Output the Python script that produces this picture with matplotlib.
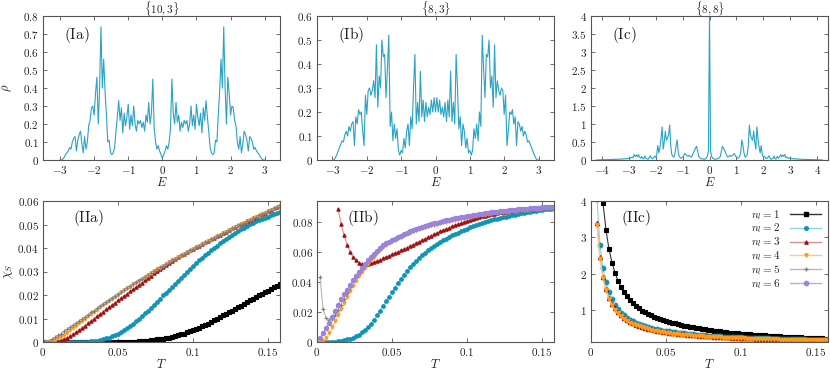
import numpy as np
import matplotlib
matplotlib.use('Agg')
import matplotlib.pyplot as plt
from matplotlib.ticker import FuncFormatter, MultipleLocator

plt.rcParams['mathtext.fontset'] = 'cm'
plt.rcParams['font.family'] = 'serif'
plt.rcParams['font.serif'] = ['DejaVu Serif']

# ---------------- density of states (top row) ----------------
titles = [r'$\{10,3\}$', r'$\{8,3\}$', r'$\{8,8\}$']
top_tags = ['(Ia)', '(Ib)', '(Ic)']

E_ab = np.linspace(-3.0, 3.0, 151)
E_c = np.linspace(-4.2, 4.2, 211)

rho_a = [0.000, 0.000, 0.005, 0.015, 0.030, 0.040, 0.050, 0.070, 0.060, 0.100,
         0.120, 0.130, 0.050, 0.110, 0.140, 0.160, 0.090, 0.040, 0.130, 0.060,
         0.100, 0.190, 0.220, 0.290, 0.300, 0.250, 0.370, 0.460, 0.200, 0.400,
         0.740, 0.400, 0.560, 0.380, 0.250, 0.100, 0.110, 0.040, 0.030, 0.040,
         0.070, 0.160, 0.240, 0.330, 0.220, 0.290, 0.150, 0.260, 0.190, 0.240,
         0.310, 0.170, 0.250, 0.190, 0.300, 0.200, 0.160, 0.220, 0.200, 0.220,
         0.180, 0.210, 0.160, 0.250, 0.210, 0.320, 0.200, 0.260, 0.450, 0.180,
         0.100, 0.060, 0.080, 0.050, 0.030,
         0.010,
         0.030, 0.050, 0.080, 0.060, 0.100,
         0.180, 0.450, 0.260, 0.200, 0.320, 0.210, 0.250, 0.160, 0.210, 0.180,
         0.220, 0.200, 0.220, 0.160, 0.200, 0.300, 0.190, 0.250, 0.170, 0.310,
         0.240, 0.190, 0.260, 0.150, 0.290, 0.220, 0.330, 0.240, 0.160, 0.070,
         0.040, 0.030, 0.040, 0.110, 0.100, 0.250, 0.380, 0.560, 0.400, 0.740,
         0.400, 0.200, 0.460, 0.370, 0.250, 0.300, 0.290, 0.220, 0.190, 0.100,
         0.060, 0.130, 0.040, 0.090, 0.160, 0.140, 0.110, 0.050, 0.130, 0.120,
         0.100, 0.060, 0.070, 0.050, 0.040, 0.030, 0.015, 0.005, 0.000, 0.000]

rho_b = [0.000, 0.000, 0.008, 0.020, 0.035, 0.050, 0.065, 0.080, 0.075, 0.105,
         0.120, 0.100, 0.140, 0.120, 0.150, 0.160, 0.060, 0.180, 0.150, 0.210,
         0.190, 0.200, 0.120, 0.060, 0.270, 0.190, 0.290, 0.300, 0.270, 0.290,
         0.330, 0.260, 0.480, 0.220, 0.350, 0.300, 0.500, 0.430, 0.440, 0.260,
         0.380, 0.520, 0.140, 0.200, 0.080, 0.150, 0.090, 0.130, 0.040, 0.020,
         0.040, 0.030, 0.090, 0.050, 0.120, 0.150, 0.060, 0.180, 0.130, 0.300,
         0.440, 0.150, 0.240, 0.160, 0.370, 0.180, 0.250, 0.160, 0.240, 0.180,
         0.220, 0.190, 0.250, 0.200, 0.260,
         0.200,
         0.260, 0.200, 0.250, 0.190, 0.220,
         0.180, 0.240, 0.160, 0.250, 0.180, 0.370, 0.160, 0.240, 0.150, 0.440,
         0.300, 0.130, 0.180, 0.060, 0.150, 0.120, 0.050, 0.090, 0.030, 0.040,
         0.020, 0.040, 0.130, 0.090, 0.150, 0.080, 0.200, 0.140, 0.520, 0.380,
         0.260, 0.440, 0.430, 0.500, 0.300, 0.350, 0.220, 0.480, 0.260, 0.330,
         0.290, 0.270, 0.300, 0.290, 0.190, 0.270, 0.060, 0.120, 0.200, 0.190,
         0.210, 0.150, 0.180, 0.060, 0.160, 0.150, 0.120, 0.140, 0.100, 0.120,
         0.105, 0.075, 0.080, 0.065, 0.050, 0.035, 0.020, 0.008, 0.000, 0.000]

rho_c = [0.000, 0.002, 0.004, 0.005, 0.006, 0.008, 0.006, 0.008, 0.010, 0.008,
         0.012, 0.010, 0.014, 0.012, 0.015, 0.018, 0.014, 0.020, 0.016, 0.022,
         0.018, 0.025, 0.020, 0.030, 0.022, 0.035, 0.030, 0.040, 0.030, 0.050,
         0.040, 0.060, 0.050, 0.080, 0.060, 0.150, 0.100, 0.140, 0.090, 0.150,
         0.080, 0.050, 0.100, 0.040, 0.030, 0.110, 0.050, 0.030, 0.020, 0.060,
         0.120, 0.060, 0.040, 0.050, 0.100, 0.080, 0.150, 0.400, 0.200, 0.350,
         0.600, 0.920, 0.300, 0.500, 0.800, 0.550, 0.600, 0.700, 0.970, 0.400,
         0.150, 0.100, 0.080, 0.200, 0.400, 0.560, 0.200, 0.100, 0.060, 0.050,
         0.080, 0.120, 0.180, 0.150, 0.120, 0.100, 0.130, 0.100, 0.080, 0.120,
         0.200, 0.260, 0.330, 0.380, 0.250, 0.100, 0.060, 0.040, 0.030, 0.030,
         0.020, 0.030, 0.050, 0.100, 0.250,
         4.000,
         0.250, 0.100, 0.050, 0.030, 0.020,
         0.030, 0.030, 0.040, 0.060, 0.100, 0.250, 0.380, 0.330, 0.260, 0.200,
         0.120, 0.080, 0.100, 0.130, 0.100, 0.120, 0.150, 0.180, 0.120, 0.080,
         0.050, 0.060, 0.100, 0.200, 0.560, 0.400, 0.200, 0.080, 0.100, 0.150,
         0.400, 0.970, 0.700, 0.600, 0.550, 0.800, 0.500, 0.300, 0.920, 0.600,
         0.350, 0.200, 0.400, 0.150, 0.080, 0.100, 0.050, 0.040, 0.060, 0.120,
         0.060, 0.020, 0.030, 0.050, 0.110, 0.030, 0.040, 0.100, 0.050, 0.080,
         0.150, 0.090, 0.140, 0.100, 0.150, 0.060, 0.080, 0.050, 0.060, 0.040,
         0.050, 0.030, 0.040, 0.030, 0.035, 0.022, 0.030, 0.020, 0.025, 0.018,
         0.022, 0.016, 0.020, 0.014, 0.018, 0.015, 0.012, 0.014, 0.010, 0.012,
         0.008, 0.010, 0.008, 0.006, 0.008, 0.006, 0.005, 0.004, 0.002, 0.000]

# ---------------- susceptibility (bottom row) ----------------
bottom_tags = ['(IIa)', '(IIb)', '(IIc)']
T = np.linspace(0.002, 0.158, 79)

# panel IIa
chi_a1 = [0] * 27 + [
    .0001, .0001, .0002, .0002, .0003, .0004, .0005, .0006, .0008, .0009,
    .0011, .0012, .0014, .0017, .0019, .0022, .0025, .0028, .0032, .0036,
    .0041, .0045, .0050, .0055, .0061, .0066, .0072, .0078, .0085, .0092,
    .0099, .0106, .0113, .0120, .0127, .0134, .0141, .0148, .0155, .0162,
    .0170, .0177, .0184, .0191, .0198, .0205, .0212, .0219, .0226, .0233,
    .0240, .0247]
chi_a2 = [0] * 12 + [
    .0001, .0001, .0002, .0003, .0004, .0006, .0008, .0011, .0015, .0019,
    .0024, .0030, .0036, .0043, .0051, .0059, .0068, .0078, .0088, .0099,
    .0110, .0122, .0134, .0146, .0159, .0172, .0185, .0198, .0210, .0223,
    .0235, .0248, .0260, .0273, .0286, .0299, .0312, .0325, .0336, .0347,
    .0358, .0369, .0380, .0390, .0400, .0410, .0420, .0430, .0439, .0448,
    .0456, .0465, .0473, .0480, .0487, .0494, .0501, .0508, .0513, .0519,
    .0524, .0529, .0534, .0539, .0544, .0549, .0554]
chi_a3 = [.0000, .0000, .0001, .0002, .0004, .0008, .0013, .0019, .0026, .0033,
          .0041, .0050, .0060, .0070, .0080, .0090, .0100, .0110, .0120, .0129,
          .0139, .0149, .0158, .0168, .0177, .0186, .0196, .0205, .0215, .0225,
          .0234, .0244, .0253, .0263, .0273, .0282, .0292, .0301, .0311, .0320,
          .0329, .0337, .0346, .0354, .0362, .0369, .0376, .0383, .0390, .0397,
          .0404, .0410, .0417, .0424, .0431, .0437, .0444, .0451, .0457, .0464,
          .0470, .0477, .0483, .0489, .0496, .0502, .0508, .0514, .0520, .0527,
          .0533, .0539, .0545, .0551, .0557, .0563, .0569, .0575, .0581]
chi_a4 = [.0000, .0002, .0005, .0010, .0016, .0023, .0031, .0040, .0049, .0059,
          .0069, .0079, .0089, .0099, .0109, .0119, .0128, .0138, .0147, .0156,
          .0165, .0174, .0183, .0192, .0201, .0211, .0220, .0228, .0236, .0245,
          .0253, .0261, .0269, .0277, .0285, .0293, .0301, .0309, .0317, .0324,
          .0332, .0339, .0347, .0354, .0361, .0368, .0375, .0382, .0389, .0396,
          .0403, .0409, .0416, .0423, .0430, .0436, .0443, .0450, .0456, .0463,
          .0469, .0476, .0482, .0488, .0495, .0501, .0507, .0513, .0519, .0526,
          .0532, .0538, .0544, .0550, .0556, .0562, .0568, .0574, .0580]
chi_a5 = [.0002, .0006, .0012, .0020, .0028, .0036, .0045, .0054, .0063, .0072,
          .0081, .0090, .0099, .0108, .0117, .0126, .0134, .0143, .0152, .0161,
          .0169, .0178, .0187, .0195, .0204, .0212, .0221, .0229, .0237, .0246,
          .0254, .0262, .0270, .0278, .0286, .0294, .0302, .0310, .0318, .0325,
          .0333, .0340, .0348, .0355, .0362, .0369, .0376, .0383, .0390, .0397,
          .0404, .0410, .0417, .0424, .0431, .0437, .0444, .0451, .0457, .0464,
          .0470, .0477, .0483, .0489, .0496, .0502, .0508, .0514, .0520, .0527,
          .0533, .0539, .0545, .0551, .0557, .0563, .0569, .0575, .0581]

# panel IIb
chi_b2 = [.0000, .0000, .0000, .0001, .0002, .0003, .0005, .0008, .0012, .0017,
          .0022, .0028, .0037, .0050, .0066, .0082, .0100, .0121, .0147, .0178,
          .0209, .0240, .0271, .0302, .0333, .0363, .0393, .0421, .0450, .0476,
          .0499, .0521, .0541, .0560, .0578, .0595, .0611, .0627, .0642, .0656,
          .0668, .0679, .0690, .0701, .0711, .0720, .0729, .0738, .0747, .0756,
          .0764, .0771, .0779, .0786, .0793, .0799, .0805, .0811, .0817, .0822,
          .0827, .0831, .0836, .0840, .0844, .0849, .0853, .0858, .0862, .0866,
          .0869, .0872, .0876, .0879, .0882, .0885, .0888, .0890, .0893]
chi_b3 = [.0890, .0790, .0712, .0650, .0602, .0568, .0545, .0530, .0522, .0519,
          .0520, .0525, .0532, .0540, .0549, .0558, .0567, .0576, .0585, .0594,
          .0603, .0612, .0621, .0630, .0640, .0650, .0660, .0670, .0680, .0690,
          .0700, .0710, .0719, .0728, .0737, .0746, .0755, .0763, .0771, .0779,
          .0787, .0794, .0801, .0808, .0815, .0821, .0827, .0832, .0837, .0842,
          .0847, .0852, .0856, .0860, .0864, .0867, .0870, .0873, .0876, .0879,
          .0881, .0884, .0886, .0888, .0890, .0891, .0893, .0894, .0896, .0897,
          .0899, .0900, .0902]
chi_b4 = [.0000, .0005, .0030, .0063, .0098, .0138, .0178, .0218, .0259, .0300,
          .0338, .0375, .0410, .0442, .0470, .0495, .0520, .0545, .0570, .0592,
          .0613, .0631, .0646, .0659, .0671, .0682, .0692, .0702, .0712, .0721,
          .0730, .0738, .0746, .0753, .0760, .0766, .0772, .0778, .0783, .0788,
          .0793, .0798, .0803, .0807, .0812, .0816, .0820, .0824, .0828, .0832,
          .0835, .0838, .0841, .0844, .0847, .0850, .0853, .0856, .0859, .0862,
          .0864, .0866, .0868, .0870, .0872, .0874, .0876, .0878, .0880, .0882,
          .0883, .0885, .0886, .0888, .0889, .0891, .0892, .0894, .0895]
chi_b5 = [.0433, .0222, .0160, .0145, .0155, .0180, .0215, .0250, .0290, .0330,
          .0370, .0405, .0437, .0465, .0491, .0516, .0541, .0564, .0586, .0606,
          .0625, .0641, .0654, .0665, .0676, .0686, .0696, .0706, .0716, .0725,
          .0734, .0742, .0750, .0757, .0764, .0770, .0776, .0782, .0787, .0792,
          .0797, .0802, .0807, .0811, .0816, .0820, .0824, .0828, .0832, .0836,
          .0839, .0842, .0845, .0848, .0851, .0854, .0857, .0860, .0863, .0866,
          .0868, .0870, .0872, .0874, .0876, .0878, .0880, .0882, .0884, .0886,
          .0887, .0889, .0890, .0892, .0893, .0895, .0896, .0898, .0899]
chi_b6 = [.0027, .0060, .0094, .0128, .0166, .0206, .0246, .0284, .0318, .0349,
          .0380, .0411, .0441, .0469, .0495, .0520, .0545, .0568, .0590, .0610,
          .0629, .0645, .0658, .0669, .0680, .0690, .0700, .0710, .0720, .0729,
          .0738, .0746, .0754, .0761, .0768, .0774, .0780, .0786, .0791, .0796,
          .0801, .0806, .0811, .0815, .0820, .0824, .0828, .0832, .0836, .0840,
          .0843, .0846, .0849, .0852, .0855, .0858, .0861, .0864, .0867, .0870,
          .0872, .0874, .0876, .0878, .0880, .0882, .0884, .0886, .0888, .0890,
          .0891, .0893, .0894, .0896, .0897, .0899, .0900, .0902, .0903]

# panel IIc
chi_c1 = [3.95, 3.20, 2.68, 2.31, 2.03, 1.81, 1.64, 1.50, 1.38, 1.28,
          1.19, 1.12, 1.05, 0.99, 0.94, 0.90, 0.86, 0.82, 0.79, 0.76,
          0.73, 0.70, 0.68, 0.66, 0.64, 0.62, 0.60, 0.58, 0.56, 0.55,
          0.53, 0.52, 0.51, 0.49, 0.48, 0.47, 0.45, 0.44, 0.43, 0.42,
          0.41, 0.40, 0.39, 0.38, 0.375, 0.367, 0.36, 0.353, 0.346, 0.34,
          0.334, 0.328, 0.322, 0.316, 0.311, 0.305, 0.30, 0.295, 0.29, 0.285,
          0.28, 0.276, 0.272, 0.268, 0.264, 0.26, 0.256, 0.252, 0.248, 0.244,
          0.24, 0.236, 0.232, 0.228, 0.224, 0.22]
chi_c2 = [4.05, 2.80, 2.16, 1.77, 1.50, 1.30, 1.15, 1.03, 0.93, 0.86,
          0.80, 0.74, 0.70, 0.66, 0.62, 0.59, 0.56, 0.54, 0.52, 0.495,
          0.475, 0.46, 0.445, 0.43, 0.42, 0.405, 0.395, 0.385, 0.375, 0.365,
          0.355, 0.345, 0.34, 0.33, 0.325, 0.318, 0.311, 0.305, 0.30, 0.295,
          0.29, 0.285, 0.28, 0.275, 0.271, 0.267, 0.263, 0.259, 0.255, 0.252,
          0.248, 0.245, 0.242, 0.239, 0.236, 0.233, 0.23, 0.227, 0.224, 0.222,
          0.219, 0.217, 0.214, 0.212, 0.21, 0.208, 0.206, 0.203, 0.201, 0.199,
          0.197, 0.195, 0.193, 0.191, 0.189, 0.187, 0.186, 0.184]
chi_c3 = [3.40, 2.45, 1.92, 1.58, 1.35, 1.18, 1.05, 0.95, 0.87, 0.80,
          0.74, 0.69, 0.65, 0.61, 0.58, 0.55, 0.52, 0.50, 0.48, 0.46,
          0.44, 0.43, 0.415, 0.40, 0.39, 0.38, 0.37, 0.36, 0.35, 0.342,
          0.334, 0.326, 0.319, 0.312, 0.306, 0.30, 0.294, 0.288, 0.283, 0.278,
          0.273, 0.268, 0.264, 0.26, 0.256, 0.252, 0.248, 0.245, 0.241, 0.238,
          0.235, 0.232, 0.229, 0.226, 0.223, 0.221, 0.218, 0.216, 0.213, 0.211,
          0.209, 0.206, 0.204, 0.202, 0.20, 0.198, 0.196, 0.194, 0.192, 0.19,
          0.189, 0.187, 0.185, 0.184, 0.182, 0.18, 0.179, 0.177]
chi_c4 = [3.35, 2.40, 1.88, 1.55, 1.32, 1.15, 1.02, 0.92, 0.84, 0.77,
          0.71, 0.665, 0.625, 0.59, 0.56, 0.53, 0.505, 0.48, 0.46, 0.44,
          0.425, 0.41, 0.395, 0.38, 0.37, 0.36, 0.35, 0.342, 0.334, 0.326,
          0.318, 0.311, 0.304, 0.298, 0.292, 0.286, 0.28, 0.275, 0.27, 0.265,
          0.26, 0.256, 0.252, 0.248, 0.244, 0.24, 0.237, 0.234, 0.23, 0.227,
          0.224, 0.221, 0.218, 0.216, 0.213, 0.211, 0.208, 0.206, 0.204, 0.202,
          0.20, 0.198, 0.196, 0.194, 0.192, 0.19, 0.188, 0.187, 0.185, 0.183,
          0.182, 0.18, 0.179, 0.177, 0.176, 0.174, 0.173, 0.172]

# style per n_l: marker, line colour, marker colour, marker size
styles = {
    1: ('s', '#333333', '#000000', 2.6),
    2: ('o', '#8fd3e6', '#0e94b8', 2.6),
    3: ('^', '#d89090', '#a01010', 2.4),
    4: ('v', '#ffc880', '#ff9a1a', 2.4),
    5: ('+', '#b8b8b8', '#808080', 3.0),
    6: ('o', '#b8aee8', '#9b84d8', 3.1),
}

panels = [
    {1: chi_a1, 2: chi_a2, 3: chi_a3, 4: chi_a4, 5: chi_a5},
    {2: chi_b2, 3: chi_b3, 4: chi_b4, 5: chi_b5, 6: chi_b6},
    {1: chi_c1, 2: chi_c2, 3: chi_c3, 4: chi_c4},
]

txt = '#222222'
spine_col = '#555555'


def fmt(v, p):
    return '$%g$' % (round(v, 6) + 0.0)


def style_axes(ax):
    for s in ax.spines.values():
        s.set_color(spine_col)
        s.set_linewidth(0.8)
    ax.tick_params(direction='in', top=True, right=True, length=3, width=0.6,
                   color=spine_col, labelsize=8, labelcolor=txt, pad=3)
    ax.xaxis.set_major_formatter(FuncFormatter(fmt))
    ax.yaxis.set_major_formatter(FuncFormatter(fmt))


fig = plt.figure(figsize=(8.3, 3.7), dpi=100)
W, H = 830.0, 370.0
lefts = [43, 317, 591]
aw = 237

# top row
top_data = [(E_ab, rho_a, (-3.5, 3.45), (0, 0.8), 0.1, 1),
            (E_ab, rho_b, (-3.45, 3.45), (0, 0.6), 0.1, 1),
            (E_c, rho_c, (-4.4, 4.4), (0, 4), 0.5, 1)]
for j, (E, rho, xl, yl, ystep, xstep) in enumerate(top_data):
    ax = fig.add_axes([lefts[j] / W, (H - 160) / H, aw / W, 144 / H])
    ax.plot(E, rho, color='#2aa3c6', lw=0.8)
    ax.set_xlim(*xl)
    ax.set_ylim(*yl)
    ax.xaxis.set_major_locator(MultipleLocator(xstep))
    ax.yaxis.set_major_locator(MultipleLocator(ystep))
    style_axes(ax)
    ax.set_title(titles[j], fontsize=8, color=txt, pad=2)
    ax.set_xlabel(r'$E$', fontsize=9, color=txt, labelpad=0)
    ax.text(0.09, 0.87, r'$\mathrm{%s}$' % top_tags[j], transform=ax.transAxes,
            fontsize=11, color=txt, va='center')
    if j == 0:
        ax.set_ylabel(r'$\rho$', fontsize=9, color=txt, labelpad=6)

# bottom row
ylims = [(0, 0.06), (0, 0.094), (0.13, 4)]
ysteps = [0.01, 0.02, 1]
for j in range(3):
    ax = fig.add_axes([lefts[j] / W, (H - 342) / H, aw / W, 141 / H])
    for n in range(1, 7):
        if n not in panels[j]:
            continue
        vals = panels[j][n]
        mk, lc, mc, ms = styles[n]
        if j == 2:
            ms = ms * 1.3
        ax.plot(T[-len(vals):], vals, color=lc, lw=0.8, marker=mk, ms=ms,
                mfc=mc, mec=mc, mew=0.8, label=r'$n_l = %d$' % n)
    ax.set_xlim(0, 0.158)
    ax.set_ylim(*ylims[j])
    ax.xaxis.set_major_locator(MultipleLocator(0.05))
    ax.yaxis.set_major_locator(MultipleLocator(ysteps[j]))
    style_axes(ax)
    ax.set_xlabel(r'$T$', fontsize=9, color=txt, labelpad=0)
    ax.text(0.125, 0.88, r'$\mathrm{%s}$' % bottom_tags[j], transform=ax.transAxes,
            fontsize=11, color=txt, va='center')
    if j == 0:
        ax.set_ylabel(r'$\chi_S$', fontsize=9, color=txt, labelpad=2)

# legend for all six n_l in the last panel
handles = []
for n in range(1, 7):
    mk, lc, mc, ms = styles[n]
    h, = ax.plot([], [], color=lc, lw=1.0, marker=mk, ms=ms, mfc=mc, mec=mc,
                 label=r'$n_l = %d$' % n)
    handles.append(h)
ax.legend(handles=handles, loc='upper right', frameon=False, markerfirst=False,
          fontsize=8, handlelength=2.8, labelspacing=0.0, borderaxespad=0.2,
          handletextpad=0.9, numpoints=1, labelcolor=txt)

fig.savefig('out.png', dpi=100)
